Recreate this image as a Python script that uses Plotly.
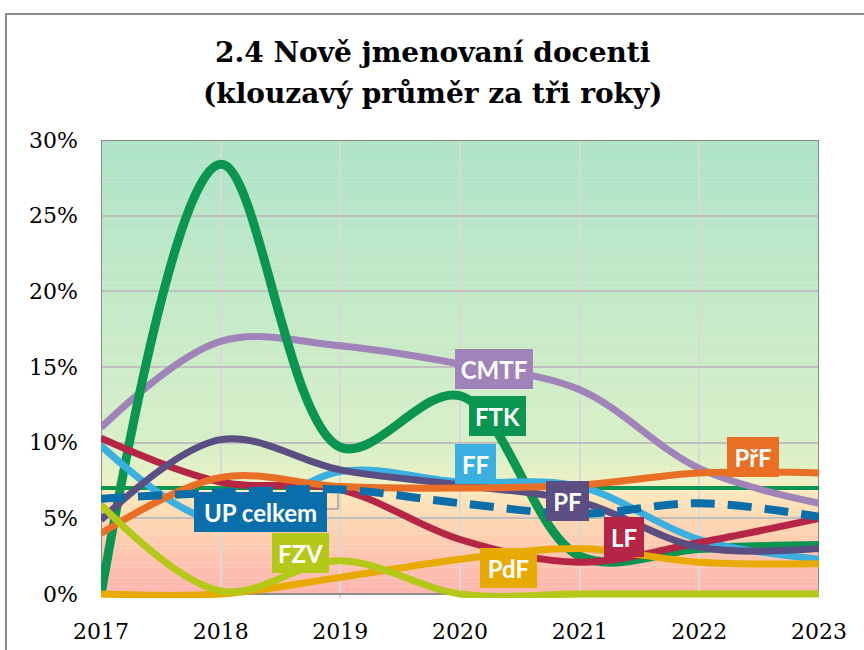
import plotly.graph_objects as go

years = [2017, 2018, 2019, 2020, 2021, 2022, 2023]
year_labels = ["2017", "2018", "2019", "2020", "2021", "2022", "2023"]

CMTF = [11.0, 16.7, 16.4, 15.2, 13.5, 8.3, 6.0]
FTK = [0.0, 28.4, 9.7, 13.1, 2.5, 3.0, 3.2]
FF = [9.8, 4.8, 8.1, 7.4, 7.1, 3.6, 2.3]
LF = [10.3, 7.4, 6.9, 3.6, 2.1, 3.4, 5.0]
PF = [4.9, 10.2, 8.2, 7.2, 6.1, 3.1, 3.0]
PdF = [0.0, 0.0, 1.1, 2.3, 3.0, 2.1, 2.0]
PrF = [4.0, 7.7, 7.1, 7.0, 7.2, 8.0, 8.0]
FZV = [5.9, 0.2, 2.2, 0.0, 0.0, 0.0, 0.0]
UP = [6.3, 6.7, 6.9, 6.0, 5.3, 6.0, 5.1]
REF7 = [7.0, 7.0, 7.0, 7.0, 7.0, 7.0, 7.0]

y_ticks = [0, 5, 10, 15, 20, 25, 30]
y_tick_labels = ["0%", "5%", "10%", "15%", "20%", "25%", "30%"]

series = [
    ("7 %", REF7, "#0a9650", 4, None),
    ("CMTF", CMTF, "#a083b8", 7, None),
    ("FTK", FTK, "#0a9650", 9, None),
    ("FF", FF, "#3bb0e0", 7, None),
    ("LF", LF, "#b52546", 7, None),
    ("PF", PF, "#5a4e82", 7, None),
    ("PdF", PdF, "#e8aa00", 7, None),
    ("PřF", PrF, "#e86f24", 7, None),
    ("FZV", FZV, "#b4c818", 7, None),
    ("UP celkem", UP, "#0a6eaa", 8, "24px,13px"),
]

fig = go.Figure()
for name, vals, color, w, dash in series:
    line = dict(color=color, width=w, shape="spline", smoothing=1.0)
    if dash:
        line["dash"] = dash
    fig.add_trace(go.Scatter(x=years, y=vals, mode="lines", name=name, line=line,
                             showlegend=False, hoverinfo="skip"))

# background gradient
stops = [(0, "#fdb5b0"), (2.5, "#fdc6b0"), (5, "#fdd8b2"), (6.8, "#fde9bd"),
         (7.4, "#eef0c4"), (8.5, "#e0f0c6"), (10, "#d8efc8"), (15, "#cdecc8"),
         (20, "#c2e9c8"), (25, "#b8e6c8"), (30, "#aee3c8")]


def hx(c):
    return [int(c[i:i + 2], 16) for i in (1, 3, 5)]


def col_at(v):
    for (a, ca), (b, cb) in zip(stops[:-1], stops[1:]):
        if a <= v <= b:
            t = (v - a) / (b - a)
            A, B = hx(ca), hx(cb)
            return "rgb(%d,%d,%d)" % tuple(round(A[i] + (B[i] - A[i]) * t) for i in range(3))
    return stops[-1][1]


shapes = []
step = 0.25
n = int(30 / step)
for i in range(n):
    y0 = i * step
    shapes.append(dict(type="rect", xref="x", yref="y", x0=2017, x1=2023, y0=y0, y1=y0 + step + 0.02,
                       fillcolor=col_at(y0 + step / 2), line=dict(width=0), layer="below"))

# plot border
shapes.append(dict(type="rect", xref="x", yref="y", x0=2017, x1=2023, y0=0, y1=30,
                   line=dict(color="#8c8c8c", width=2), fillcolor="rgba(0,0,0,0)", layer="between"))
# outer frame
shapes.append(dict(type="rect", xref="paper", yref="paper", x0=-0.1323, x1=1.08, y0=-0.14, y1=1.2751,
                   line=dict(color="#8c8c8c", width=2), fillcolor="rgba(0,0,0,0)", layer="above"))
# leader line for UP celkem label
shapes.append(dict(type="path", xref="x", yref="y",
                   path="M 2018.889 5.62 L 2018.98 5.62 L 2018.98 6.6",
                   line=dict(color="#a0a0a0", width=1.5), layer="above"))

labels = [
    ("CMTF", 2020.284, 14.87, "#a083b8", 78),
    ("FTK", 2020.313, 11.73, "#0a9650", 57),
    ("FF", 2020.129, 8.56, "#3bb0e0", 41),
    ("PF", 2020.898, 6.15, "#5a4e82", 43),
    ("LF", 2021.370, 3.80, "#b52546", 40),
    ("PřF", 2022.448, 9.05, "#e86f24", 52),
    ("UP celkem", 2018.333, 5.42, "#0a6eaa", 133),
    ("FZV", 2018.667, 2.71, "#b4c818", 57),
    ("PdF", 2020.405, 1.72, "#e8aa00", 57),
]
annotations = []
for text, x, y, color, w in labels:
    annotations.append(dict(text=text, x=x, y=y, xref="x", yref="y", showarrow=False,
                            bgcolor=color, width=w, height=40, borderpad=0, borderwidth=0,
                            font=dict(family="Lato", size=24, color="white", weight="bold"),
                            xanchor="center", yanchor="middle"))

annotations.append(dict(text="2.4 Nově jmenovaní docenti", x=0.4623, y=1.1921, xref="paper", yref="paper",
                        showarrow=False, xanchor="center", yanchor="middle",
                        font=dict(family="DejaVu Serif", size=28, color="black", weight="bold")))
annotations.append(dict(text="(klouzavý průměr za tři roky)", x=0.4623, y=1.1026, xref="paper", yref="paper",
                        showarrow=False, xanchor="center", yanchor="middle",
                        font=dict(family="DejaVu Serif", size=28, color="black", weight="bold")))

fig.update_layout(
    width=864, height=650,
    margin=dict(l=101, r=45, t=140, b=52, autoexpand=False),
    paper_bgcolor="white", plot_bgcolor="white",
    shapes=shapes, annotations=annotations,
    showlegend=False,
    xaxis=dict(range=[2017, 2023], tickvals=years, ticktext=year_labels,
               showgrid=True, gridcolor="#d9d9d9", gridwidth=2, zeroline=False,
               showline=False, ticks="", ticklabelstandoff=18,
               tickfont=dict(family="DejaVu Serif", size=22, color="black")),
    yaxis=dict(range=[-0.264, 30], tickvals=y_ticks, ticktext=y_tick_labels,
               showgrid=True, gridcolor="#bfbfbf", gridwidth=2, zeroline=False,
               showline=False, ticks="", ticklabelstandoff=22,
               tickfont=dict(family="DejaVu Serif", size=22, color="black")),
)

fig.write_html("out.html", config={"displayModeBar": False},
               post_script="document.body.style.margin='0px';")
